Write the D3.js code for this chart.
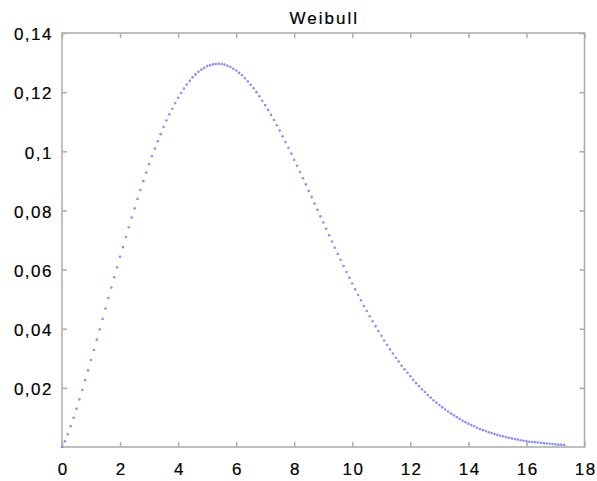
<!DOCTYPE html>
<html>
<head>
<meta charset="utf-8">
<script src="https://cdn.jsdelivr.net/npm/d3@7"></script>
<style>
  html, body { margin: 0; padding: 0; background: #fff; }
  svg { display: block; }
  text { font-family: "Liberation Sans", Arial, sans-serif; fill: #000; stroke: #000; stroke-width: 0.2px; }
</style>
</head>
<body>
<svg id="chart" width="597" height="481"></svg>
<script>
// ---- data (x step 0.1, 0 .. 17.3) ----
const title = "Weibull";
const xStart = 0, xStep = 0.1;
const density = [
0.0000,0.0019,0.0043,0.0070,0.0099,0.0129,0.0161,0.0193,0.0226,0.0259,
0.0294,0.0328,0.0363,0.0398,0.0433,0.0468,0.0504,0.0539,0.0574,0.0608,
0.0643,0.0676,0.0710,0.0743,0.0776,0.0807,0.0839,0.0869,0.0899,0.0928,
0.0956,0.0983,0.1009,0.1034,0.1058,0.1082,0.1104,0.1125,0.1144,0.1163,
0.1181,0.1197,0.1212,0.1226,0.1238,0.1250,0.1260,0.1269,0.1276,0.1282,
0.1288,0.1291,0.1294,0.1295,0.1296,0.1295,0.1293,0.1289,0.1285,0.1279,
0.1273,0.1265,0.1257,0.1247,0.1237,0.1225,0.1213,0.1200,0.1186,0.1171,
0.1156,0.1140,0.1123,0.1106,0.1088,0.1070,0.1051,0.1031,0.1012,0.0992,
0.0971,0.0951,0.0930,0.0909,0.0888,0.0866,0.0845,0.0823,0.0802,0.0780,
0.0759,0.0738,0.0716,0.0695,0.0674,0.0653,0.0633,0.0612,0.0592,0.0572,
0.0553,0.0533,0.0514,0.0496,0.0477,0.0460,0.0442,0.0425,0.0408,0.0392,
0.0376,0.0360,0.0345,0.0330,0.0316,0.0302,0.0289,0.0275,0.0263,0.0251,
0.0239,0.0227,0.0216,0.0206,0.0195,0.0186,0.0176,0.0167,0.0158,0.0150,
0.0142,0.0134,0.0127,0.0120,0.0113,0.0107,0.0101,0.0095,0.0089,0.0084,
0.0079,0.0074,0.0070,0.0065,0.0061,0.0057,0.0054,0.0050,0.0047,0.0044,
0.0041,0.0038,0.0036,0.0033,0.0031,0.0029,0.0027,0.0025,0.0023,0.0021,
0.0020,0.0018,0.0017,0.0016,0.0015,0.0014,0.0013,0.0012,0.0011,0.0010,
0.0009,0.0008,0.0008,0.0007
];
const xTicks = [0, 2, 4, 6, 8, 10, 12, 14, 16, 18];
const yTicks = [0.02, 0.04, 0.06, 0.08, 0.1, 0.12, 0.14];
const yTickLabels = ["0,02", "0,04", "0,06", "0,08", "0,1", "0,12", "0,14"];

const points = density.map((v, i) => ({ x: +(xStart + i * xStep).toFixed(1), y: v }));

// ---- layout ----
const svg = d3.select("#chart");
const L = 62, R = 584.5, T = 33, B = 447;
const x = d3.scaleLinear().domain([0, 18]).range([L, R]);
const y = d3.scaleLinear().domain([0, 0.14]).range([B, T]);
const frameColor = "#b0b0b0";

// title
svg.append("text")
  .attr("x", (L + R) / 2 + 1).attr("y", 24)
  .attr("text-anchor", "middle")
  .style("font-size", "17px").style("letter-spacing", "2px")
  .text(title);

// frame
svg.append("rect")
  .attr("x", L).attr("y", T).attr("width", R - L).attr("height", B - T)
  .attr("fill", "none").attr("stroke", frameColor).attr("stroke-width", 1.6);

// axes (ticks inward, on all four sides)
const fmtY = d => yTickLabels[yTicks.indexOf(d)];
const gBottom = svg.append("g").attr("transform", `translate(0,${B})`)
  .call(d3.axisBottom(x).tickValues(xTicks).tickSizeInner(-5).tickSizeOuter(0).tickPadding(15));
const gTop = svg.append("g").attr("transform", `translate(0,${T})`)
  .call(d3.axisTop(x).tickValues(xTicks).tickSizeInner(-5).tickSizeOuter(0).tickFormat(""));
const gLeft = svg.append("g").attr("transform", `translate(${L},0)`)
  .call(d3.axisLeft(y).tickValues(yTicks).tickSizeInner(-5).tickSizeOuter(0).tickPadding(9).tickFormat(fmtY));
const gRight = svg.append("g").attr("transform", `translate(${R},0)`)
  .call(d3.axisRight(y).tickValues(yTicks).tickSizeInner(-5).tickSizeOuter(0).tickFormat(""));

[gBottom, gTop, gLeft, gRight].forEach(g => {
  g.select(".domain").remove();
  g.selectAll(".tick line").attr("stroke", frameColor).attr("stroke-width", 1.6);
  g.selectAll(".tick text")
    .style("font-size", "17px").style("letter-spacing", "1.5px")
    .attr("font-family", null).attr("fill", "#000");
});
gLeft.selectAll(".tick text").attr("dy", "0.4em");
gBottom.selectAll(".tick text").attr("dy", "0.75em").attr("dx", "0.75px");

// data dots
svg.append("g")
  .selectAll("circle")
  .data(points)
  .join("circle")
  .attr("cx", d => x(d.x))
  .attr("cy", d => y(d.y))
  .attr("r", 1.3)
  .attr("fill", "#7373ff")
  .attr("opacity", 0.8);
</script>
</body>
</html>
